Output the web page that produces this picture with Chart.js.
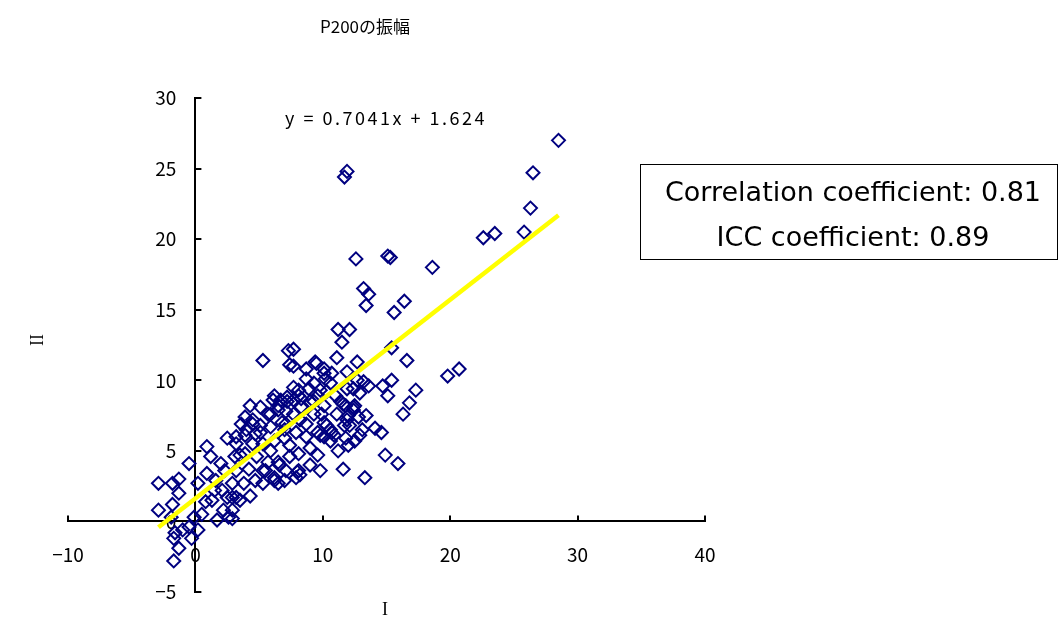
<!DOCTYPE html>
<html>
<head>
<meta charset="utf-8">
<script src="https://cdn.jsdelivr.net/npm/chart.js@4"></script>
<style>
  html, body { margin: 0; padding: 0; background: #fff; }
  #wrap { width: 1064px; height: 643px; }
</style>
</head>
<body>
<div id="wrap"><canvas id="scatter"></canvas></div>
<script>
// P200 amplitude, session I vs session II
const ampI = [
  28.5, 26.5, 26.3, 25.8, 23.5, 22.6, 18.6, 11.7, 11.9, 12.6, 15.1, 15.3, 13.2, 13.6, 13.4, 16.4,
  15.6, 11.2, 12.1, 11.5, 11.1, 15.4, 16.6, 19.8, 20.7, 17.3, 16.8, 16.3, 15.1, 15.4, 14.7, 13.6,
  13.2, 15.9, 14.9, 13.3, 11.6, 13.4, 12.4, 11.8, 12.0, 10.3, 12.1, 13.1, 14.1, 14.6, 10.9, 10.1,
  11.8, 12.9, 12.0, 11.2,
  5.3, 7.7, 7.7, 9.5, 12.7, 8.7, 8.7, 10.1, 10.2, 8.9, 8.1, 10.3, 11.6, 12.4, 4.3, 5.1, 6.1, 6.7,
  7.7, 8.1, 11.1, 12.4, 3.9, 5.9, 7.1, 9.3,
  9.4, 11.9, 12.7, 10.1, 10.7, 9.3, 10.6, 9.8, 7.7, 11.9, 12.9, 7.2, 8.3, 9.0, 10.1, 11.4, 12.5,
  7.7, 11.9, 12.8, 8.7, 10.1, 7.1, 10.6, 9.6,
  7.4, 7.3, 5.7, 6.5, 4.5, 4.0, 5.1, 5.9, 6.8, 2.5,
  3.2, 3.9, 4.7, 5.3, 4.5, 6.2, 7.0, 7.9, 8.7, 9.8, 3.1, 3.9, 4.8, 5.7, 6.5, 7.4, 8.1, 9.0, 9.6,
  3.2, 4.2, 5.3, 6.2, 7.1, 8.1, 9.0, 2.9, 3.8, 4.7, 5.3, 6.5, 7.9, 3.2, 2.9, 2.9,
  -2.9, -1.8, -1.3, -0.5, -2.9, -1.8, -1.3, -1.9, -1.6, -1.0, -1.7, -1.3, -1.7, -0.3, 0.2, -0.5,
  0.2, 0.9, 1.2, 0.9, 0.8, -0.1, 0.5, 1.7, 2.0, 1.6, 2.1, 2.5, 2.2, 2.6, 1.3,
  3.2, 4.5, 3.6, 6.5, 7.2, 8.3, 9.3, 9.9, 10.7, 8.0, 7.0, 6.2, 2.9,
  8.2, 9.8, 10.6, 7.4, 5.9, 4.3, 3.5, 1.5, 2.3, 8.2, 7.0, 5.1, 11.7, 12.5, 3.5, 6.2, 9.6, 11.0,
  5.5, 6.6
];
const ampII = [
  27.0, 24.7, 22.2, 20.5, 20.4, 20.1, 18.0, 24.4, 24.8, 18.6, 18.8, 18.7, 16.5, 16.1, 15.3, 15.6,
  14.8, 13.6, 13.6, 12.7, 11.6, 12.3, 11.4, 10.3, 10.8, 9.3, 8.4, 7.6, 8.9, 10.0, 9.6, 9.6,
  9.9, 4.1, 4.7, 3.1, 3.7, 7.5, 8.1, 8.2, 7.5, 6.8, 6.8, 6.5, 6.6, 6.3, 6.1, 6.0,
  5.9, 6.1, 5.4, 5.0,
  11.4, 12.2, 11.0, 11.2, 11.3, 10.8, 10.1, 10.8, 10.1, 9.4, 9.3, 9.2, 8.3, 9.4, 8.2, 8.1, 8.6, 8.6,
  8.6, 8.9, 7.6, 7.9, 7.4, 7.6, 7.8, 7.6,
  11.3, 10.6, 10.0, 10.5, 10.5, 9.8, 9.8, 9.3, 9.5, 9.4, 9.1, 8.8, 8.7, 8.5, 8.2, 8.5, 8.2,
  7.6, 7.2, 7.4, 6.9, 7.0, 6.9, 6.5, 6.3,
  11.1, 12.1, 7.6, 7.9, 6.9, 6.5, 6.3, 6.7, 7.0, 5.9,
  5.5, 6.1, 6.2, 5.5, 5.5, 5.7, 5.9, 6.3, 6.0, 6.1, 4.6, 4.8, 4.6, 4.2, 4.2, 4.6, 4.8, 5.2, 4.7,
  3.6, 3.7, 3.6, 3.1, 3.6, 3.6, 4.0, 2.7, 2.7, 2.9, 2.7, 2.7, 3.1, 1.7, 0.8, 0.2,
  2.7, 2.7, 3.0, 4.1, 0.8, 1.2, 2.0, 0.3, -0.8, -0.6, -1.2, -1.9, -2.8, -1.2, -0.6, -0.4,
  2.7, 5.3, 4.6, 3.4, 1.4, 0.3, 0.5, 0.1, 4.1, 2.9, 2.2, 1.7, 0.8, 0.3, 1.5,
  6.0, 7.2, 6.9, 8.2, 8.5, 8.1, 8.5, 7.6, 6.3, 3.5, 2.9, 2.9, 1.7,
  3.3, 3.6, 5.7, 5.4, 5.0, 1.8, 1.5, 2.2, 3.6, 7.2, 6.5, 6.8, 6.8, 5.7, 4.7, 8.9, 8.9, 8.9,
  3.6, 4.0
];

const xTicks = [-10, 0, 10, 20, 30, 40];
const yTicks = [-5, 0, 5, 10, 15, 20, 25, 30];

// linear trend printed on the chart
const slope = 0.7041;
const intercept = 1.624;

const points = ampI.map((v, i) => ({ x: v, y: ampII[i] }));
const xLo = Math.min(...ampI);
const xHi = Math.max(...ampI);
const trend = [xLo, xHi].map(v => ({ x: v, y: slope * v + intercept }));

const gothic = "'Noto Sans CJK JP', 'Noto Sans', sans-serif";
const minus = v => String(v).replace('-', '\u2212');

// inward tick marks + free text (title, axis names, equation, stats box)
const extras = {
  id: 'extras',
  beforeDatasetsDraw(chart) {
    const { ctx, scales } = chart;
    const xs = scales.x, ys = scales.y;
    const x0 = xs.getPixelForValue(0);
    const y0 = ys.getPixelForValue(0);
    ctx.save();
    ctx.strokeStyle = '#000';
    ctx.lineWidth = 2;
    xTicks.forEach(v => {
      const px = Math.round(xs.getPixelForValue(v));
      ctx.beginPath();
      ctx.moveTo(px, y0);
      ctx.lineTo(px, y0 - 6);
      ctx.stroke();
    });
    yTicks.forEach(v => {
      const py = Math.round(ys.getPixelForValue(v));
      ctx.beginPath();
      ctx.moveTo(x0, py);
      ctx.lineTo(x0 + 6, py);
      ctx.stroke();
    });
    ctx.restore();
  },
  afterDraw(chart) {
    const { ctx } = chart;
    ctx.save();
    ctx.fillStyle = '#000';
    ctx.textAlign = 'center';
    ctx.textBaseline = 'middle';

    ctx.font = "17px " + gothic;
    ctx.fillText('P200の振幅', 365, 27);

    ctx.font = "18px " + gothic;
    ctx.letterSpacing = '2.5px';
    ctx.fillText('y = 0.7041x + 1.624', 386, 118);
    ctx.letterSpacing = '0px';

    ctx.font = "18px 'Liberation Serif', serif";
    ctx.fillText('I', 385, 610);
    ctx.save();
    ctx.translate(38, 340);
    ctx.rotate(-Math.PI / 2);
    ctx.fillText('II', 0, 0);
    ctx.restore();

    ctx.strokeStyle = '#000';
    ctx.lineWidth = 1;
    ctx.strokeRect(640.5, 164.5, 417, 95);
    ctx.font = "27px 'DejaVu Sans', sans-serif";
    ctx.fillText('Correlation coefficient: 0.81', 853, 194);
    ctx.fillText('ICC coefficient: 0.89', 853, 239);
    ctx.restore();
  }
};

const ctxScatter = document.getElementById('scatter').getContext('2d');
const scatterChart = new Chart(ctxScatter, {
  type: 'scatter',
  data: {
    datasets: [
      {
        type: 'line',
        label: 'trend',
        data: trend,
        borderColor: '#FFFF00',
        borderWidth: 4.5,
        pointRadius: 0,
        fill: false,
        order: 0
      },
      {
        label: 'P200',
        data: points,
        pointStyle: 'rectRot',
        pointRadius: 6.5,
        borderColor: '#000080',
        backgroundColor: 'rgba(0,0,0,0)',
        pointBorderWidth: 2,
        order: 1
      }
    ]
  },
  options: {
    responsive: true,
    maintainAspectRatio: false,
    animation: false,
    layout: { padding: { left: 68, right: 359, top: 98, bottom: 51 } },
    plugins: {
      legend: { display: false },
      tooltip: { enabled: false },
      title: { display: false }
    },
    scales: {
      x: {
        type: 'linear',
        position: { y: 0 },
        min: -10,
        max: 40,
        afterBuildTicks: s => { s.ticks = xTicks.map(v => ({ value: v })); },
        grid: { display: false, drawTicks: false },
        border: { color: '#000', width: 2 },
        ticks: {
          color: '#000', padding: 22, maxRotation: 0,
          font: { size: 19, family: gothic },
          callback: v => minus(v)
        }
      },
      y: {
        type: 'linear',
        position: { x: 0 },
        min: -5,
        max: 30,
        afterBuildTicks: s => { s.ticks = yTicks.map(v => ({ value: v })); },
        grid: { display: false, drawTicks: false },
        border: { color: '#000', width: 2 },
        // labels sit on the axis when it is placed at x = 0, so pad with en spaces
        ticks: {
          color: '#000',
          font: { size: 19, family: gothic },
          callback: v => minus(v) + '\u2002\u2002'
        }
      }
    }
  },
  plugins: [extras]
});
</script>
</body>
</html>
